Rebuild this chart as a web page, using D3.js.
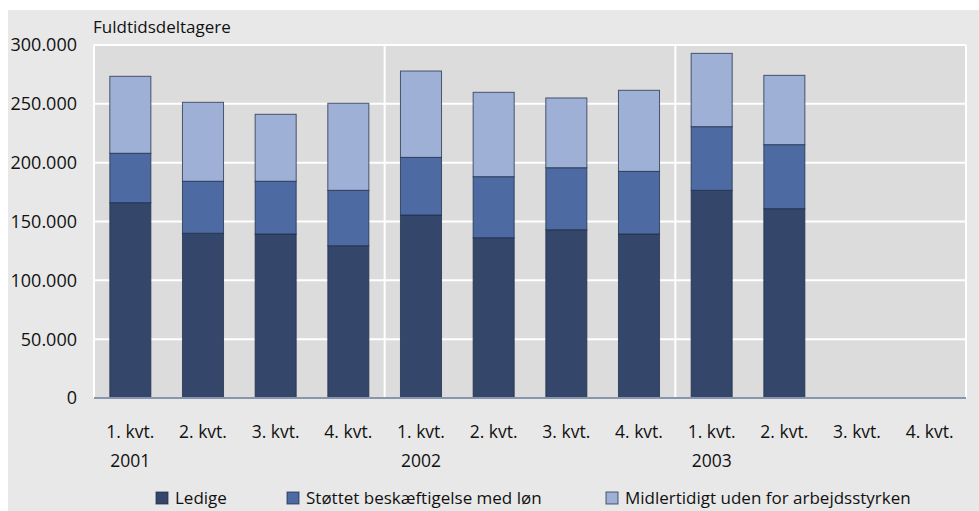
<!DOCTYPE html>
<html><head><meta charset="utf-8">
<script src="https://cdn.jsdelivr.net/npm/d3@7"></script>
<style>
html,body{margin:0;padding:0;background:#fff;}
svg text{font-family:"Open Sans",sans-serif;fill:#111;}
</style></head>
<body>
<svg id="c" width="979" height="511"></svg>
<script>
const quarters = ["1. kvt.","2. kvt.","3. kvt.","4. kvt.","1. kvt.","2. kvt.","3. kvt.","4. kvt.","1. kvt.","2. kvt.","3. kvt.","4. kvt."];
const years = ["2001","","","","2002","","","","2003","","",""];
const ledige =  [166000,140000,139400,129400,155500,136200,143000,139400,176500,160900,null,null];
const stottet = [42000,44200,44800,47100,49000,51900,52700,53200,54100,54400,null,null];
const midl =    [65400,67100,56900,74000,73400,71700,59300,68900,62300,58900,null,null];
const seriesNames = ["Ledige","Støttet beskæftigelse med løn","Midlertidigt uden for arbejdsstyrken"];
const colors = ["#34476b","#4d6aa2","#9eb0d5"];
const yTicks = [0,50000,100000,150000,200000,250000,300000];
const yTitle = "Fuldtidsdeltagere";

const svg = d3.select("#c");
const W=979,H=511;
const m={l:94,r:13,t:45,b:113};
const iw=W-m.l-m.r, ih=H-m.t-m.b;

svg.append("rect").attr("x",8).attr("y",10).attr("width",W-8).attr("height",H-10).attr("fill","#e8e8e8");

const idx = quarters.map((d,i)=>i);
const x = d3.scaleBand().domain(idx).range([m.l,m.l+iw]).paddingInner(0.435).paddingOuter(0.2175);
const y = d3.scaleLinear().domain([0,300000]).range([m.t+ih,m.t]);

svg.append("rect").attr("x",m.l).attr("y",m.t).attr("width",iw).attr("height",ih).attr("fill","#dcdcdc");

// gridlines
svg.append("g").selectAll("line").data(yTicks.filter(d=>d>0)).join("line")
  .attr("x1",m.l).attr("x2",m.l+iw).attr("y1",d=>y(d)).attr("y2",d=>y(d))
  .attr("stroke","#fff").attr("stroke-width",2);
// year separators + frame
const step = x.step();
const sepX = [0,4,8,12].map(i=> m.l + i*step);
svg.append("g").selectAll("line").data(sepX).join("line")
  .attr("x1",d=>d).attr("x2",d=>d).attr("y1",m.t).attr("y2",m.t+ih)
  .attr("stroke","#fff").attr("stroke-width",2);

// stacked data
const rows = idx.map(i=>({i, a:ledige[i], b:stottet[i], c:midl[i]}));
const stack = d3.stack().keys(["a","b","c"]).value((d,k)=>d[k]==null?0:d[k]);
const layers = stack(rows.filter(r=>r.a!=null));
svg.append("g").selectAll("g").data(layers).join("g")
  .attr("fill",(d,k)=>colors[k])
  .selectAll("rect").data(d=>d).join("rect")
  .attr("x",d=>x(d.data.i)).attr("width",x.bandwidth())
  .attr("y",d=>y(d[1])).attr("height",d=>y(d[0])-y(d[1]))
  .attr("stroke","#1e2c48").attr("stroke-opacity",0.75).attr("stroke-width",1);

// x axis line
svg.append("line").attr("x1",m.l).attr("x2",m.l+iw).attr("y1",m.t+ih).attr("y2",m.t+ih)
  .attr("stroke","#8796ad").attr("stroke-width",2);

// y labels
const fmt = d=> d3.format(",")(d).replace(/,/g,".");
svg.append("g").selectAll("text").data(yTicks).join("text")
  .attr("x",77).attr("y",d=>y(d)).attr("dy","0.36em").attr("text-anchor","end")
  .attr("font-size",18).text(fmt);

// x labels
svg.append("g").selectAll("text").data(idx).join("text")
  .attr("x",i=>x(i)+x.bandwidth()/2).attr("y",438).attr("text-anchor","middle")
  .attr("font-size",17.5).text(i=>quarters[i]);
svg.append("g").selectAll("text").data(idx.filter(i=>years[i])).join("text")
  .attr("x",i=>x(i)+x.bandwidth()/2).attr("y",467).attr("text-anchor","middle")
  .attr("font-size",17.5).text(i=>years[i]);

svg.append("text").attr("x",93).attr("y",33).attr("font-size",17).text(yTitle);

// legend
const legX=[156,287,606];
const lg = svg.append("g").selectAll("g").data(seriesNames).join("g")
  .attr("transform",(d,k)=>`translate(${legX[k]},492)`);
lg.append("rect").attr("width",12).attr("height",12).attr("fill",(d,k)=>colors[k])
  .attr("stroke","#1e2c48").attr("stroke-opacity",0.75).attr("stroke-width",1);
lg.append("text").attr("x",19).attr("y",12).attr("font-size",17).text(d=>d);
</script>
</body></html>
